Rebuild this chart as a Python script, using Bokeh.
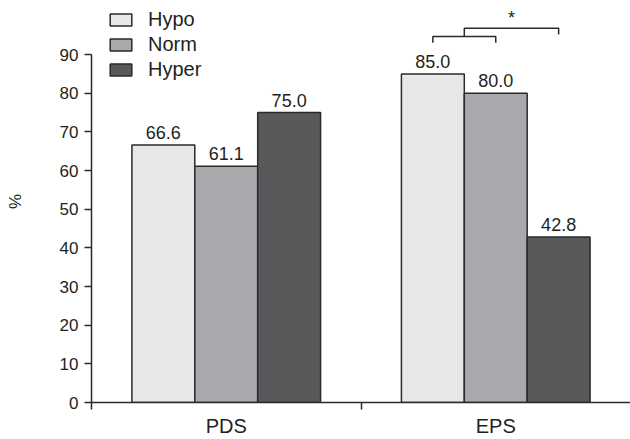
from bokeh.plotting import figure
from bokeh.models import Range1d, FixedTicker, Legend, LegendItem, ColumnDataSource
from bokeh.embed import file_html
from bokeh.resources import INLINE
from bokeh.core.properties import value

# ---- data ----
categories = ["PDS", "EPS"]
groups = ["Hypo", "Norm", "Hyper"]
hypo = [66.6, 85.0]
norm = [61.1, 80.0]
hyper = [75.0, 42.8]
y_ticks = [0, 10, 20, 30, 40, 50, 60, 70, 80, 90]
colors = ["#e6e7e8", "#a7a9ac", "#58595b"]

# significance bracket levels (in % units) for EPS
br_low, br_low_leg = 94.7, 93.1
br_high, br_high_leg = 96.8, 95.2
star_y = 99.6
star_text = "*"

FONT = "Liberation Sans"
INK = "#231f20"
LINE = "#2a2a2a"

p = figure(width=630, height=439, output_backend="svg", toolbar_location=None,
           x_range=Range1d(0, 2), y_range=Range1d(0, 104),
           min_border_left=91, min_border_right=0, min_border_top=0, min_border_bottom=37)
p.outline_line_color = None
p.xgrid.visible = False
p.ygrid.visible = False
p.background_fill_color = "white"

w = 0.7 / 3
centers = [i + 0.5 for i in range(len(categories))]
series = [hypo, norm, hyper]
offsets = [-w, 0, w]

renderers = []
for vals, off, col in zip(series, offsets, colors):
    xs = [c + off for c in centers]
    src = ColumnDataSource(dict(x=xs, top=vals, lab=["%.1f" % v for v in vals]))
    r = p.vbar(x="x", top="top", width=w, source=src, fill_color=col,
               line_color=LINE, line_width=1.5)
    renderers.append(r)
    p.text(x="x", y="top", text="lab", source=src, text_align="center",
           text_baseline="bottom", y_offset=-6, text_font=value(FONT),
           text_font_size="18px", text_color=INK)

# bracket (EPS: Hypo vs Norm, then vs Hyper)
eps = centers[1]
hx, nx, yx = eps + offsets[0], eps + offsets[1], eps + offsets[2]
mid = (hx + nx) / 2
p.line([hx, hx, nx, nx], [br_low_leg, br_low, br_low, br_low_leg], line_color=LINE, line_width=1.5)
p.line([mid, mid, yx, yx], [br_low, br_high, br_high, br_high_leg], line_color=LINE, line_width=1.5)
p.text(x=[(mid + yx) / 2], y=[star_y], text=[star_text], text_align="center",
       text_baseline="middle", text_font=value(FONT), text_font_size="18px", text_color=INK)

# axes
p.yaxis.ticker = FixedTicker(ticks=y_ticks)
p.yaxis.bounds = (0, 90)
p.yaxis.major_tick_out = 7
p.yaxis.major_tick_in = 0
p.yaxis.minor_tick_out = 0
p.yaxis.minor_tick_in = 0
p.yaxis.major_label_standoff = 6
p.yaxis.axis_label = "%"
p.yaxis.axis_label_standoff = 32
p.yaxis.axis_label_text_font_style = "normal"
p.yaxis.axis_label_text_font = FONT
p.yaxis.axis_label_text_font_size = "17px"
p.yaxis.axis_label_text_color = INK

p.xaxis.ticker = FixedTicker(ticks=centers, minor_ticks=[0, 1])
p.xaxis.major_label_overrides = {c: lab for c, lab in zip(centers, categories)}
p.xaxis.major_tick_out = 0
p.xaxis.major_tick_in = 0
p.xaxis.minor_tick_out = 7
p.xaxis.minor_tick_in = 0
p.xaxis.major_label_standoff = 5
p.xaxis.major_label_text_font_size = "20px"

for ax in (p.xaxis, p.yaxis):
    ax.axis_line_color = LINE
    ax.axis_line_width = 1.5
    ax.major_tick_line_color = LINE
    ax.major_tick_line_width = 1.5
    ax.minor_tick_line_color = LINE
    ax.minor_tick_line_width = 1.5
    ax.major_label_text_font = FONT
    ax.major_label_text_color = INK
p.yaxis.major_label_text_font_size = "17px"

legend = Legend(items=[LegendItem(label=g, renderers=[r]) for g, r in zip(groups, renderers)],
                location=(16, 320), orientation="vertical", padding=0, margin=0, spacing=0,
                glyph_width=27, glyph_height=15, label_height=25, label_standoff=14,
                border_line_color=None, background_fill_alpha=0,
                label_text_font=FONT, label_text_font_size="20px", label_text_color=INK)
p.add_layout(legend)

open("out.html", "w").write(file_html(p, INLINE))
